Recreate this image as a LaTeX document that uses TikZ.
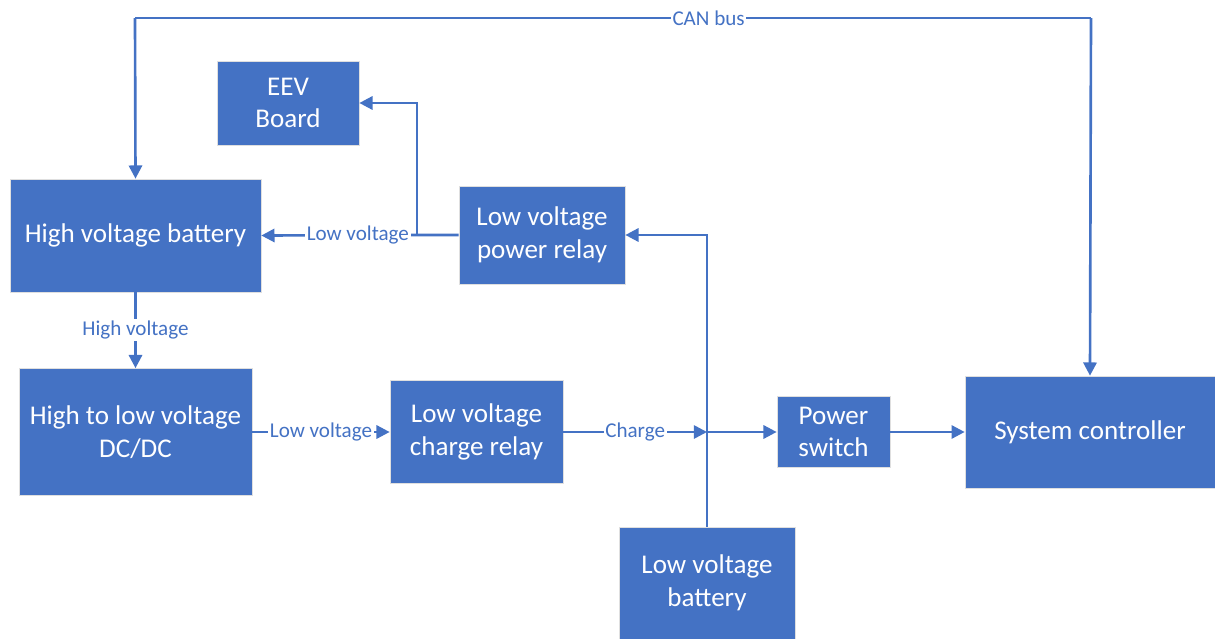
\documentclass[tikz,border=0pt]{standalone}
\usepackage{fontspec}
\setmainfont{Carlito}
\usetikzlibrary{arrows.meta,positioning}
\definecolor{boxblue}{HTML}{4472C4}

\begin{document}
\begin{tikzpicture}[x=0.02cm,y=-0.02cm,
  block/.style={rectangle,draw=gray!25,fill=boxblue,text=white,align=center,
    font=\fontsize{15.4}{18.5}\selectfont,inner sep=0pt},
  wire/.style={draw=boxblue,line width=1.5pt,-{Triangle[length=7.5pt,width=7.5pt]}},
  lbl/.style={fill=white,text=boxblue,inner sep=1pt,font=\fontsize{12}{14}\selectfont}]

\useasboundingbox (0,0) rectangle (1215,639);

% Blocks
\node[block,minimum width=2.84cm,minimum height=1.68cm] (eev) at (288,103) {EEV\\Board};
\node[block,minimum width=5.02cm,minimum height=2.26cm] (hvb) at (135.5,235.5) {High voltage battery};
\node[block,minimum width=3.32cm,minimum height=1.96cm] (relay) at (542,235) {Low voltage\\power relay};
\node[block,minimum width=4.66cm,minimum height=2.54cm] (dcdc) at (135.5,432) {High to low voltage\\DC/DC};
\node[block,minimum width=3.46cm,minimum height=2.06cm] (chrelay) at (476.5,432) {Low voltage\\charge relay};
\node[block,minimum width=2.26cm,minimum height=1.42cm] (pswitch) at (833.5,432) {Power\\switch};
\node[block,minimum width=5.0cm,minimum height=2.24cm] (syscon) at (1090,432) {System controller};
\node[block,minimum width=3.52cm,minimum height=2.24cm] (lvb) at (707,583) {Low voltage\\battery};

% CAN bus
\coordinate (canL) at (135,18);
\coordinate (canR) at (1091,18);
\draw[wire,-] (canL) -- node[lbl,pos=0.6] {CAN bus} (canR);
\draw[wire] (canL) -- (hvb.north);
\draw[wire] (canR) -- (syscon.north);

% Low voltage from power relay
\coordinate (tap) at (417,235);
\draw[wire] (relay.west) -- (tap) -- node[lbl,pos=0.38] {Low voltage} (hvb.east);
\draw[wire] (tap) |- (eev.east);

% Power chain
\draw[wire] (hvb.south) -- node[lbl] {High voltage} (dcdc.north);
\draw[wire] (dcdc.east) -- node[lbl] {Low voltage} (chrelay.west);
\coordinate (jn) at (707,432);
\draw[wire] (chrelay.east) -- node[lbl] {Charge} (jn);
\draw[wire] (jn) -- (pswitch.west);
\draw[wire] (pswitch.east) -- (syscon.west);
\draw[wire] (lvb.north) |- (relay.east);
\end{tikzpicture}
\end{document}
